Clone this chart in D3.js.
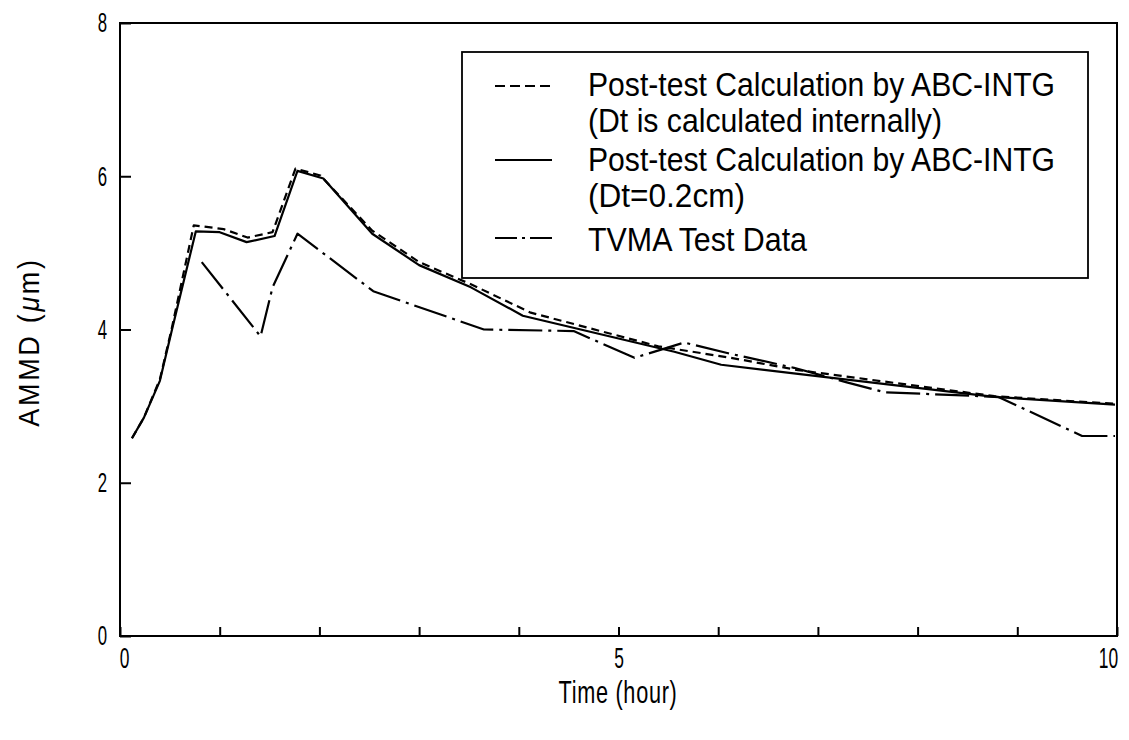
<!DOCTYPE html>
<html><head><meta charset="utf-8">
<script src="https://cdn.jsdelivr.net/npm/d3@7"></script>
<style>body{margin:0;background:#fff}svg{display:block}</style>
</head><body>
<svg id="chart" width="1129" height="740"></svg>
<script>
// ---- data ----
const xTicks = [0,1,2,3,4,5,6,7,8,9,10];
const xTickLabels = ["0","","","","","5","","","","","10"];
const yTicks = [0,2,4,6,8];
const yTickLabels = ["0","2","4","6","8"];

const timeDash = [0.12,0.24,0.40,0.52,0.74,1.04,1.28,1.53,1.76,2.01,2.53,3.00,3.52,4.12,5.40,6.13,6.80,8.77,9.98];
const ammdDash = [2.58,2.85,3.35,4.02,5.36,5.31,5.20,5.27,6.10,6.01,5.29,4.88,4.59,4.22,3.78,3.63,3.47,3.13,3.03];

const timeSolid = [0.12,0.24,0.40,0.52,0.76,1.00,1.27,1.55,1.78,2.04,2.53,3.00,3.52,4.04,5.56,6.03,6.80,8.77,9.98];
const ammdSolid = [2.58,2.85,3.33,3.99,5.28,5.27,5.14,5.22,6.07,5.97,5.25,4.84,4.55,4.18,3.71,3.54,3.42,3.12,3.02];

const timeTVMA = [0.82,1.41,1.53,1.78,2.54,3.65,4.55,5.16,5.66,6.10,6.76,7.29,7.67,8.07,8.81,9.65,9.98];
const ammdTVMA = [4.88,3.91,4.55,5.25,4.50,4.00,3.98,3.63,3.83,3.69,3.50,3.31,3.18,3.16,3.12,2.61,2.61];

const legendLines = [
  ["Post-test Calculation by ABC-INTG", "(Dt is calculated internally)"],
  ["Post-test Calculation by ABC-INTG", "(Dt=0.2cm)"],
  ["TVMA Test Data"]
];
const xTitle = "Time (hour)";
const yTitleA = "AMMD (", yTitleMu = "\u03BC", yTitleB = "m)";

// ---- layout ----
const FONT = "'Liberation Sans','Arimo',Helvetica,Arial,sans-serif";
const L = 120, R = 1117, T = 23, B = 636;
const DIGIT_SX = 0.6;
const svg = d3.select("#chart");
const x = d3.scaleLinear().domain([0,10]).range([L,R]);
const y = d3.scaleLinear().domain([0,8]).range([B,T]);

// frame
svg.append("rect").attr("x",L).attr("y",T).attr("width",R-L).attr("height",B-T)
  .attr("fill","none").attr("stroke","#000").attr("stroke-width",2);

// x axis
const xa = svg.append("g").attr("transform",`translate(0,${B})`)
  .call(d3.axisBottom(x).tickValues(xTicks).tickSizeInner(-9).tickSizeOuter(0).tickPadding(11)
    .tickFormat((d,i)=>xTickLabels[i]));
xa.select(".domain").remove();
xa.selectAll("line").attr("stroke","#000").attr("stroke-width",2);
xa.selectAll("text").attr("font-family",FONT).attr("font-size",29).attr("fill","#000")
  .attr("transform",`scale(${DIGIT_SX},1)`)
  .each(function(d,i){
    const s = xTickLabels[i];
    if(s==="10"){ d3.select(this).attr("x",-9/DIGIT_SX); }
    if(s==="0"){ d3.select(this).attr("x",4/DIGIT_SX); }
  });

// y axis
const ya = svg.append("g").attr("transform",`translate(${L},0)`)
  .call(d3.axisLeft(y).tickValues(yTicks).tickSizeInner(-11).tickSizeOuter(0).tickPadding(13)
    .tickFormat((d,i)=>yTickLabels[i]));
ya.select(".domain").remove();
ya.selectAll("line").attr("stroke","#000").attr("stroke-width",2);
ya.selectAll("text").attr("font-family",FONT).attr("font-size",28).attr("fill","#000")
  .attr("x",-13/DIGIT_SX).attr("transform",`scale(${DIGIT_SX},1)`);

// titles
svg.append("g").attr("transform","translate(618,703)")
  .append("text").attr("transform","scale(0.7,1)").attr("text-anchor","middle")
  .attr("font-family",FONT).attr("font-size",31).attr("letter-spacing",1).text(xTitle);
const yt = svg.append("g").attr("transform","translate(39,342) rotate(-90)")
  .append("text").attr("text-anchor","middle").attr("transform","scale(0.9,1)")
  .attr("font-family",FONT).attr("font-size",30).attr("letter-spacing",3);
yt.append("tspan").text(yTitleA);
yt.append("tspan").attr("font-style","italic").text(yTitleMu);
yt.append("tspan").text(yTitleB);

// lines
const line = d3.line().x(d=>x(d[0])).y(d=>y(d[1]));
const series = [
  {t:timeDash, v:ammdDash, dash:"8,5"},
  {t:timeSolid, v:ammdSolid, dash:null},
  {t:timeTVMA, v:ammdTVMA, dash:"34,6,3,6"}
];
series.forEach(s=>{
  svg.append("path").datum(s.t.map((t,i)=>[t,s.v[i]]))
    .attr("d",line).attr("fill","none").attr("stroke","#000").attr("stroke-width",2.2)
    .attr("stroke-linejoin","round")
    .attr("stroke-dasharray",s.dash);
});

// legend
const lg = svg.append("g");
lg.append("rect").attr("x",462).attr("y",52).attr("width",626).attr("height",226)
  .attr("fill","#fff").attr("stroke","#000").attr("stroke-width",1.8);
const rowBase = [[96,132],[171,207],[251]];
const sampleY = [86,160,238];
const sampleDash = ["10,5","","22,5,3,5"];
const textWidths = [[467,354],[467,157],[219]];
legendLines.forEach((rows,i)=>{
  lg.append("line").attr("x1",495).attr("x2",552).attr("y1",sampleY[i]).attr("y2",sampleY[i])
    .attr("stroke","#000").attr("stroke-width",2).attr("stroke-dasharray",sampleDash[i]||null);
  rows.forEach((txt,j)=>{
    lg.append("text").attr("x",588).attr("y",rowBase[i][j])
      .attr("font-family",FONT).attr("font-size",33)
      .attr("textLength",textWidths[i][j]).attr("lengthAdjust","spacingAndGlyphs")
      .text(txt);
  });
});
</script>
</body></html>
